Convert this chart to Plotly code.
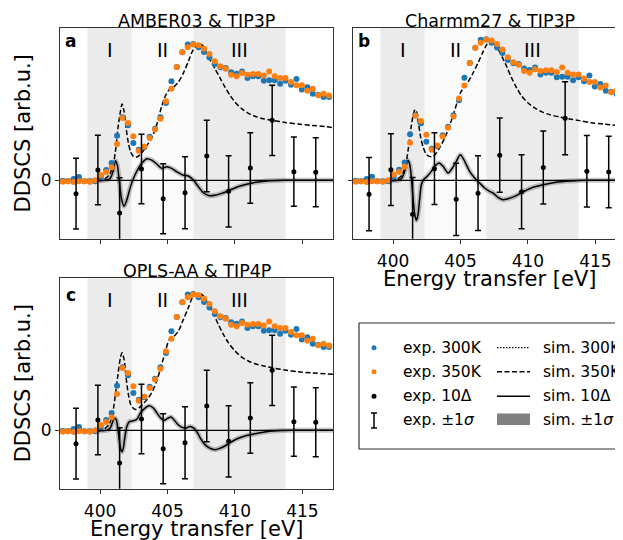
import plotly.graph_objects as go

# ---------------- data ----------------
# experimental energy grid [eV]
E_exp = [397.23, 397.63, 398.04, 398.44, 398.84, 399.25, 399.65, 400.05, 400.45, 400.86,
         401.26, 401.66, 402.07, 402.47, 402.87, 403.28, 403.68, 404.08, 404.48, 404.89,
         405.29, 405.69, 406.10, 406.50, 406.90, 407.31, 407.71, 408.11, 408.51, 408.92,
         409.32, 409.72, 410.13, 410.53, 410.93, 411.34, 411.74, 412.14, 412.54, 412.95,
         413.35, 413.75, 414.16, 414.56, 414.96, 415.37, 415.77, 416.17, 416.57, 416.98]
exp_300K = [-0.005, -0.007, 0.010, 0.025, -0.007, -0.007, -0.007, 0.027, 0.076, 0.127,
            0.328, 0.463, 0.405, 0.275, 0.225, 0.243, 0.321, 0.380, 0.463, 0.569,
            0.728, 0.833, 0.941, 0.998, 1.002, 0.978, 0.944, 0.904, 0.855, 0.831,
            0.826, 0.794, 0.784, 0.801, 0.752, 0.765, 0.765, 0.733, 0.735, 0.735,
            0.711, 0.733, 0.703, 0.745, 0.667, 0.684, 0.637, 0.630, 0.613, 0.613]
exp_350K = [-0.010, -0.007, -0.012, -0.007, -0.007, -0.010, 0.000, 0.039, 0.061, 0.096,
            0.267, 0.458, 0.422, 0.324, 0.218, 0.248, 0.311, 0.373, 0.453, 0.581,
            0.674, 0.833, 0.941, 0.978, 0.998, 0.993, 0.968, 0.929, 0.875, 0.838,
            0.821, 0.777, 0.765, 0.789, 0.777, 0.782, 0.782, 0.770, 0.801, 0.765,
            0.752, 0.752, 0.723, 0.699, 0.699, 0.659, 0.674, 0.625, 0.637, 0.623]
# experimental difference (10 x Delta) with 1 sigma
E_diff = [398.22, 399.84, 401.45, 403.07, 404.68, 406.30, 407.91, 409.53, 411.14, 412.76, 414.37, 415.99]
exp_diff = [-0.098, 0.076, -0.240, 0.083, -0.135, -0.091, 0.179, -0.081, 0.091, 0.441, 0.064, 0.059]
exp_sigma = [0.260, 0.255, 0.260, 0.255, 0.257, 0.265, 0.263, 0.262, 0.259, 0.259, 0.254, 0.254]
# per-panel normalisation of the experimental data
exp_norm = {"a": 1.0, "b": 1.035, "c": 1.0}

# simulations, panel a (AMBER03 & TIP3P)
a_sim_E = [397.03, 399.5, 400.0, 400.37, 400.69, 400.94, 401.14, 401.33, 401.51, 401.63,
           401.78, 401.93, 402.10, 402.27, 402.47, 402.67, 402.91, 403.21, 403.51, 403.83,
           404.2, 404.57, 404.89, 405.19, 405.48, 405.81, 406.18, 406.55, 406.87, 407.17,
           407.34, 407.59, 407.83, 408.15, 408.52, 408.9, 409.27, 409.64, 410.0, 410.5,
           410.99, 411.49, 412.11, 412.85, 413.71, 414.70, 415.69, 416.68, 417.3]
a_sim_350K = [0, 0, 0, 0.012, 0.042, 0.103, 0.213, 0.385, 0.507, 0.561,
              0.507, 0.385, 0.275, 0.208, 0.176, 0.169, 0.184, 0.218, 0.262, 0.311,
              0.409, 0.545, 0.630, 0.674, 0.689, 0.723, 0.789, 0.875, 0.953, 0.993,
              1.002, 0.993, 0.953, 0.887, 0.821, 0.752, 0.684, 0.625, 0.576, 0.527,
              0.493, 0.471, 0.453, 0.439, 0.426, 0.414, 0.404, 0.395, 0.387]
a_diff_E = [397.03, 400.37, 400.74, 400.99, 401.14, 401.28, 401.43, 401.61, 401.78, 401.98,
            402.22, 402.47, 402.77, 403.09, 403.46, 403.83, 404.2, 404.57, 404.94, 405.31,
            405.69, 406.13, 406.55, 406.92, 407.29, 407.66, 408.1, 408.52, 409.02, 409.64,
            410.38, 411.37, 412.36, 413.59, 417.3]
a_sim_diff = [0, 0, 0.014, 0.076, 0.144, 0.112, -0.010, -0.145, -0.190, -0.145,
              -0.059, 0.014, 0.076, 0.125, 0.159, 0.149, 0.120, 0.088, 0.100, 0.088,
              0.063, 0.039, 0.032, 0.002, -0.047, -0.091, -0.113, -0.110, -0.096, -0.071,
              -0.042, -0.017, -0.005, 0, 0]

# simulations, panel b (Charmm27 & TIP3P)
b_sim_E = [397.03, 400.0, 400.37, 400.69, 400.94, 401.14, 401.33, 401.51, 401.63, 401.75,
           401.90, 402.07, 402.25, 402.45, 402.69, 402.96, 403.21, 403.51, 403.83, 404.15,
           404.45, 404.74, 404.99, 405.26, 405.56, 405.93, 406.30, 406.67, 406.97, 407.25,
           407.59, 407.91, 408.15, 408.45, 408.77, 409.14, 409.51, 410.01, 410.5, 411.0,
           411.61, 412.35, 413.09, 413.83, 414.7, 415.69, 417.05]
b_sim_350K = [0, 0, 0.012, 0.042, 0.115, 0.238, 0.385, 0.488, 0.520, 0.502,
              0.409, 0.306, 0.238, 0.194, 0.176, 0.176, 0.201, 0.250, 0.311, 0.390,
              0.478, 0.569, 0.642, 0.684, 0.723, 0.789, 0.863, 0.944, 1.002, 1.030,
              0.990, 0.945, 0.895, 0.831, 0.757, 0.684, 0.623, 0.569, 0.532, 0.505,
              0.483, 0.466, 0.451, 0.439, 0.424, 0.412, 0.400]
b_diff_E = [397.03, 400.37, 400.62, 400.86, 400.99, 401.11, 401.24, 401.36, 401.48, 401.61,
            401.73, 401.85, 401.98, 402.10, 402.27, 402.52, 402.84, 403.09, 403.41, 403.71,
            404.08, 404.40, 404.69, 404.99, 405.31, 405.68, 406.05, 406.42, 406.79, 407.16,
            407.41, 407.78, 408.15, 408.52, 409.02, 409.51, 410.25, 411.12, 411.98, 413.21,
            414.45, 417.05]
b_sim_diff = [0, 0, 0.012, 0.066, 0.115, 0.145, 0.115, 0.017, -0.130, -0.252,
              -0.294, -0.252, -0.130, -0.032, 0.005, 0.029, 0.066, 0.103, 0.127, 0.103,
              0.054, 0.091, 0.140, 0.189, 0.140, 0.066, 0.017, -0.020, -0.056, -0.081,
              -0.093, -0.125, -0.142, -0.135, -0.118, -0.091, -0.056, -0.032, -0.015, -0.005,
              0, 0]

# simulations, panel c (OPLS-AA & TIP4P)
c_sim_E = [397.03, 400.0, 400.37, 400.69, 400.94, 401.14, 401.33, 401.51, 401.63, 401.78,
           401.93, 402.10, 402.27, 402.47, 402.67, 402.91, 403.21, 403.51, 403.83, 404.20,
           404.50, 404.82, 405.14, 405.43, 405.81, 406.18, 406.55, 406.87, 407.22, 407.59,
           408.03, 408.40, 408.77, 409.14, 409.51, 410.01, 410.50, 410.99, 411.49, 412.23,
           412.97, 413.71, 414.70, 415.69, 417.29]
c_sim_350K = [0, 0, 0.015, 0.047, 0.130, 0.265, 0.412, 0.534, 0.571, 0.522,
              0.387, 0.265, 0.191, 0.162, 0.154, 0.167, 0.196, 0.230, 0.277, 0.363,
              0.461, 0.571, 0.669, 0.686, 0.730, 0.816, 0.902, 0.980, 1.007, 0.995,
              0.926, 0.858, 0.779, 0.706, 0.645, 0.583, 0.539, 0.510, 0.490, 0.471,
              0.456, 0.444, 0.431, 0.422, 0.412]
c_diff_E = [397.03, 400.49, 400.74, 400.91, 401.06, 401.19, 401.31, 401.43, 401.56, 401.63,
            401.73, 401.85, 402.0, 402.17, 402.42, 402.72, 403.01, 403.33, 403.65, 403.95,
            404.25, 404.52, 404.77, 405.01, 405.26, 405.51, 405.81, 406.13, 406.42, 406.67,
            406.97, 407.29, 407.41, 407.78, 408.15, 408.52, 408.89, 409.26, 409.63, 410.12,
            410.74, 411.49, 412.35, 413.46, 414.45, 417.3]
c_sim_diff = [0, 0, 0.015, 0.056, 0.088, 0.081, 0.020, -0.078, -0.147, -0.157,
              -0.127, -0.042, 0.032, 0.064, 0.069, 0.081, 0.130, 0.164, 0.181, 0.164,
              0.123, 0.088, 0.074, 0.088, 0.098, 0.074, 0.039, 0.020, 0.017, 0.029,
              0.015, -0.029, -0.054, -0.105, -0.132, -0.142, -0.132, -0.115, -0.091, -0.064,
              -0.042, -0.025, -0.010, -0.002, 0, 0]

# spectral regions
region_labels = ["I", "II", "III"]
region_edges = [(399.06, 402.35), (402.35, 406.92), (406.92, 413.76)]
region_colors = ["#ebebeb", "#fafafa", "#ebebeb"]

titles = {"a": "AMBER03 & TIP3P", "b": "Charmm27 & TIP3P", "c": "OPLS-AA & TIP4P"}
x_ticks = [400, 405, 410, 415]

# ---------------- figure ----------------
# the page body has an 8 px margin: the figure is drawn 8 px in from the top-left
OFF = 8
W, H = 623 - OFF, 540 - OFF
FONT = "DejaVu Sans"
BLUE, ORANGE = "#1f77b4", "#ff7f0e"


def fx(p):
    return (p - OFF) / W


def fy(p):
    return 1 - (p - OFF) / H


panels = {
    "a": dict(xa="x", ya="y", E=a_sim_E, s350=a_sim_350K, dE=a_diff_E, d=a_sim_diff),
    "b": dict(xa="x2", ya="y2", E=b_sim_E, s350=b_sim_350K, dE=b_diff_E, d=b_sim_diff),
    "c": dict(xa="x3", ya="y3", E=c_sim_E, s350=c_sim_350K, dE=c_diff_E, d=c_sim_diff),
}

fig = go.Figure()
shapes = []
annotations = []

for key, p in panels.items():
    xa, ya = p["xa"], p["ya"]
    n = exp_norm[key]
    # shaded regions
    for (x0, x1), col in zip(region_edges, region_colors):
        shapes.append(dict(type="rect", xref=xa, yref=ya + " domain", x0=x0, x1=x1, y0=0, y1=1,
                           fillcolor=col, line=dict(width=0), layer="below"))
    # zero line
    shapes.append(dict(type="line", xref=xa + " domain", yref=ya, x0=0, x1=1, y0=0, y1=0,
                       line=dict(color="black", width=1.4), layer="below"))
    # simulated difference uncertainty band (rendered as a soft halo)
    fig.add_trace(go.Scatter(x=p["dE"], y=p["d"], mode="lines", xaxis=xa, yaxis=ya,
                             line=dict(color="rgba(0,0,0,0.22)", width=5, shape="spline", smoothing=0.8),
                             hoverinfo="skip"))
    fig.add_trace(go.Scatter(x=p["dE"], y=p["d"], mode="lines", xaxis=xa, yaxis=ya,
                             line=dict(color="black", width=1.5, shape="spline", smoothing=0.8)))
    # simulated 350K spectrum
    fig.add_trace(go.Scatter(x=p["E"], y=p["s350"], mode="lines", xaxis=xa, yaxis=ya,
                             line=dict(color="black", width=1.5, dash="5px,2.5px",
                                       shape="spline", smoothing=0.8)))
    # experimental spectra
    fig.add_trace(go.Scatter(x=E_exp, y=[v * n for v in exp_300K], mode="markers", xaxis=xa, yaxis=ya,
                             marker=dict(color=BLUE, size=6)))
    fig.add_trace(go.Scatter(x=E_exp, y=[v * n for v in exp_350K], mode="markers", xaxis=xa, yaxis=ya,
                             marker=dict(color=ORANGE, size=6)))
    # experimental difference with error bars
    fig.add_trace(go.Scatter(x=E_diff, y=[v * n for v in exp_diff], mode="markers", xaxis=xa, yaxis=ya,
                             marker=dict(color="black", size=5),
                             error_y=dict(type="data", array=[s * n for s in exp_sigma], visible=True,
                                          color="black", thickness=1.5, width=3)))
    # region labels
    for lab, (x0, x1) in zip(region_labels, region_edges):
        annotations.append(dict(x=(x0 + x1) / 2, y=0.955, xref=xa, yref=ya, text=lab, showarrow=False,
                                font=dict(family=FONT, size=19, color="black"),
                                xanchor="center", yanchor="middle"))

axis_common = dict(showline=True, linecolor="#333333", linewidth=1.2, ticks="outside", ticklen=4,
                   tickwidth=1.2, tickcolor="#333333", showgrid=False, zeroline=False,
                   tickfont=dict(family=FONT, size=17, color="black"))

xr_a = [397.03, 417.27]
xr_b = [397.03, 417.05]
yr = [-0.429, 1.12]

fig.update_layout(
    width=W, height=H, margin=dict(l=0, r=0, t=0, b=0),
    paper_bgcolor="white", plot_bgcolor="white", showlegend=False,
    xaxis=dict(domain=[fx(60), fx(333)], range=xr_a, tickvals=x_ticks, showticklabels=False,
               mirror=True, anchor="y", **axis_common),
    yaxis=dict(domain=[fy(238.7), fy(28)], range=yr, tickvals=[0], ticktext=["0"],
               mirror=True, anchor="x", **axis_common),
    xaxis2=dict(domain=[fx(353), 1.0], range=xr_b, tickvals=x_ticks, mirror=True, anchor="y2",
                ticklabelstandoff=3, **axis_common),
    yaxis2=dict(domain=[fy(238.7), fy(28)], range=yr, tickvals=[0], showticklabels=False,
                mirror=False, anchor="x2", **axis_common),
    xaxis3=dict(domain=[fx(60), fx(333)], range=xr_a, tickvals=x_ticks, mirror=True, anchor="y3",
                ticklabelstandoff=3, **axis_common),
    yaxis3=dict(domain=[fy(488.7), fy(278)], range=yr, tickvals=[0], ticktext=["0"],
                mirror=True, anchor="x3", **axis_common),
)


def txt(x, y, text, size, bold=False, angle=0, xanchor="center", yanchor="middle"):
    annotations.append(dict(x=fx(x), y=fy(y), xref="paper", yref="paper", text=text, showarrow=False,
                            textangle=angle, xanchor=xanchor, yanchor=yanchor,
                            font=dict(family=FONT, size=size, color="black",
                                      weight="bold" if bold else "normal")))


# titles
txt(196.5, 20.5, titles["a"], 17.5)
txt(489.5, 20.5, titles["b"], 17.5)
txt(196.5, 270.8, titles["c"], 17.5)
# panel letters
txt(70.5, 41, "a", 17, bold=True)
txt(364, 41, "b", 17, bold=True)
txt(71.3, 294.5, "c", 17, bold=True)
# axis titles
txt(23, 133.4, "DDSCS [arb.u.]", 21, angle=-90)
txt(23, 383.3, "DDSCS [arb.u.]", 21, angle=-90)
txt(489.5, 278.5, "Energy transfer [eV]", 21)
txt(196.5, 528.5, "Energy transfer [eV]", 21)

# ---------------- manual legend ----------------
shapes.append(dict(type="rect", xref="paper", yref="paper", x0=fx(359), x1=fx(640), y0=fy(449), y1=fy(323),
                   line=dict(color="#333333", width=1.2), fillcolor="white", layer="above"))
rows = [347.7, 371.7, 396.2, 420.0]
mx = 374
for yy, col in zip(rows[:3], [BLUE, ORANGE, "black"]):
    shapes.append(dict(type="circle", xref="paper", yref="paper", x0=fx(mx - 2.5), x1=fx(mx + 2.5),
                       y0=fy(yy + 2.5), y1=fy(yy - 2.5), fillcolor=col, line=dict(width=0), layer="above"))
# error bar glyph
for seg in [((mx, 413), (mx, 428)), ((mx - 3, 413), (mx + 3, 413)), ((mx - 3, 428), (mx + 3, 428))]:
    (xa0, ya0), (xa1, ya1) = seg
    shapes.append(dict(type="line", xref="paper", yref="paper", x0=fx(xa0), x1=fx(xa1),
                       y0=fy(ya0), y1=fy(ya1), line=dict(color="black", width=1.5), layer="above"))
lx0, lx1 = 497, 530
shapes.append(dict(type="line", xref="paper", yref="paper", x0=fx(lx0), x1=fx(lx1), y0=fy(rows[0]), y1=fy(rows[0]),
                   line=dict(color="black", width=1.2, dash="1.5px,1.5px"), layer="above"))
shapes.append(dict(type="line", xref="paper", yref="paper", x0=fx(lx0), x1=fx(lx1), y0=fy(rows[1]), y1=fy(rows[1]),
                   line=dict(color="black", width=1.5, dash="5px,2.5px"), layer="above"))
shapes.append(dict(type="line", xref="paper", yref="paper", x0=fx(lx0), x1=fx(lx1), y0=fy(rows[2]), y1=fy(rows[2]),
                   line=dict(color="black", width=1.5), layer="above"))
shapes.append(dict(type="rect", xref="paper", yref="paper", x0=fx(lx0), x1=fx(lx1), y0=fy(425), y1=fy(413.5),
                   fillcolor="#808080", line=dict(width=0), layer="above"))

left_texts = ["exp. 300K", "exp. 350K", "exp. 10Δ", "exp. ±1<i>σ</i>"]
right_texts = ["sim. 300K", "sim. 350K", "sim. 10Δ", "sim. ±1<i>σ</i>"]
for yy, t in zip(rows, left_texts):
    txt(401, yy, t, 15.5, xanchor="left")
for yy, t in zip(rows, right_texts):
    txt(540.5, yy, t, 15.5, xanchor="left")

fig.update_layout(shapes=shapes, annotations=annotations)
fig.write_html("out.html")
